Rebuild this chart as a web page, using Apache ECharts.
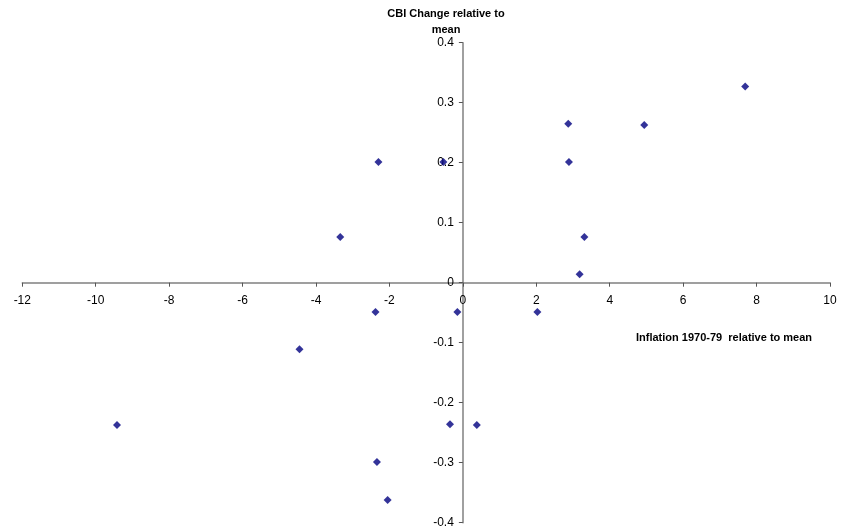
<!DOCTYPE html>
<html>
<head>
<meta charset="utf-8">
<script src="https://cdn.jsdelivr.net/npm/echarts@6/dist/echarts.min.js"></script>
<style>html,body{margin:0;padding:0;background:#fff;}#c{width:843px;height:531px;}</style>
</head>
<body>
<div id="c"></div>
<script>
var inflation = [7.69, 4.94, 2.87, 2.89, 3.31, 3.18, 2.03, -0.15, -2.38, -4.45, -3.34, -2.30, -0.53, -9.42, -0.35, 0.38, -2.34, -2.05];
var cbiChange = [0.327, 0.263, 0.265, 0.201, 0.076, 0.014, -0.049, -0.049, -0.049, -0.111, 0.076, 0.201, 0.201, -0.237, -0.236, -0.237, -0.299, -0.362];
var xTitle = 'Inflation 1970-79  relative to mean';
var yTitle = 'CBI Change relative to\nmean';

var points = inflation.map(function (x, i) { return [x, cbiChange[i]]; });
var font = '"Liberation Sans", Arial, sans-serif';
var W = 843, H = 531;
var gridL = 22.3, gridR = 13, gridT = 42.7, gridB = 8.3;
var xMin = -12, xMax = 10, yMin = -0.4, yMax = 0.4;
var gw = W - gridL - gridR, gh = H - gridT - gridB;
// move axes so they cross at zero
var xAxisOffset = -gh * (0 - yMin) / (yMax - yMin);
var yAxisOffset = -gw * (0 - xMin) / (xMax - xMin);

var chart = echarts.init(document.getElementById('c'));
chart.setOption({
  animation: false,
  backgroundColor: '#fff',
  grid: { left: gridL, right: gridR, top: gridT, bottom: gridB, outerBoundsMode: 'none', containLabel: false },
  xAxis: {
    type: 'value', min: xMin, max: xMax, interval: 2,
    offset: xAxisOffset,
    axisLine: { onZero: false, lineStyle: { color: '#808080', width: 1.5 } },
    axisTick: { show: true, length: 4, lineStyle: { color: '#555' } },
    axisLabel: { color: '#000', fontSize: 12, fontFamily: font, margin: 12 },
    splitLine: { show: false }
  },
  yAxis: {
    type: 'value', min: yMin, max: yMax, interval: 0.1,
    offset: yAxisOffset,
    axisLine: { onZero: false, lineStyle: { color: '#808080', width: 1.5 } },
    axisTick: { show: true, length: 4, lineStyle: { color: '#555' } },
    axisLabel: { color: '#000', fontSize: 12, fontFamily: font, margin: 9,
      formatter: function (v) { return String(Math.round(v * 10) / 10); } },
    splitLine: { show: false }
  },
  graphic: [
    { type: 'text', left: 446 - 70, top: 6, style: { text: yTitle, width: 140, align: 'center', textAlign: 'center', font: 'bold 11px ' + font, fill: '#000', lineHeight: 16 } },
    { type: 'text', left: 636, top: 332, style: { text: xTitle, font: 'bold 11px ' + font, fill: '#000' } }
  ],
  series: [{
    type: 'scatter',
    data: points,
    symbol: 'diamond',
    symbolSize: 8,
    itemStyle: { color: '#000080' }
  }]
});
</script>
</body>
</html>
